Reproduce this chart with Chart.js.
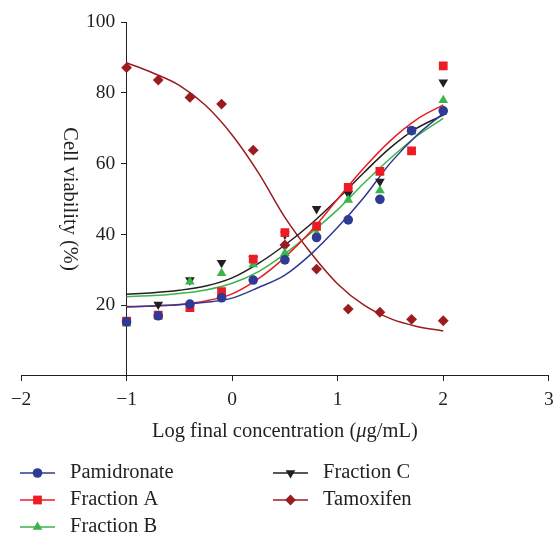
<!DOCTYPE html>
<html>
<head>
<meta charset="utf-8">
<script src="https://cdn.jsdelivr.net/npm/chart.js@4.4.1/dist/chart.umd.min.js"></script>
<style>
  html, body { margin: 0; padding: 0; background: #fff; }
  canvas { display: block; }
</style>
</head>
<body>
<canvas id="chart" width="555" height="536" style="width:555px;height:536px"></canvas>
<script>
// measured points (log concentration vs viability %)
const doses = [-1, -0.7, -0.4, -0.1, 0.2, 0.5, 0.8, 1.1, 1.4, 1.7, 2];
const pamidronate = [15.3, 17.0, 20.3, 22.1, 27.1, 32.8, 39.1, 44.1, 49.9, 69.3, 74.9];
const fractionA = [15.5, 17.2, 19.3, 23.8, 33.0, 40.5, 42.3, 53.3, 57.8, 63.6, 87.6];
const fractionB = [14.8, 17.0, 26.6, 29.0, 31.5, 34.7, 40.3, 49.7, 52.4, 69.0, 77.9];
const fractionC = [15.5, 20.2, 27.1, 32.0, 33.0, 40.0, 47.2, 51.5, 54.9, 69.5, 83.0];
const tamoxifen = [87.1, 83.6, 78.7, 76.8, 63.8, 37.0, 30.2, 18.9, 18.0, 16.0, 15.6];

// fitted curves
const fitDoses = [-1, -0.75, -0.5, -0.25, 0, 0.25, 0.5, 0.75, 1, 1.25, 1.5, 1.75, 2];
const pamidronateFit = [19.5, 19.8, 20.1, 20.8, 22.0, 25.0, 28.5, 34.5, 42.0, 50.5, 60.2, 68.0, 74.2];
const fractionAFit = [19.6, 19.8, 20.2, 21.2, 23.2, 27.5, 33.5, 41.0, 50.0, 58.8, 66.5, 72.5, 76.6];
const fractionBFit = [22.4, 22.7, 23.3, 24.3, 26.2, 29.5, 34.5, 40.5, 47.0, 54.5, 61.5, 67.8, 72.8];
const fractionCFit = [23.1, 23.5, 24.2, 25.4, 27.7, 31.8, 37.0, 43.0, 50.0, 57.5, 64.5, 70.0, 73.7];
const tamoxifenFit = [88.5, 85.6, 82.1, 76.4, 68.1, 57.4, 44.8, 34.6, 26.0, 20.0, 16.2, 14.0, 12.7];

const seriesNames = ["Pamidronate", "Fraction A", "Fraction B", "Fraction C", "Tamoxifen"];
const xTicks = [-2, -1, 0, 1, 2, 3];
const yTicks = [0, 20, 40, 60, 80, 100];

const SERIF = "'Liberation Serif', 'DejaVu Serif', serif";
const INK = "#231F20";

const styles = [
  { color: "#2E3A93", pointStyle: "circle", radius: 4.8, rotation: 0 },
  { color: "#EC1C24", pointStyle: "rect", radius: 6.2, rotation: 0 },
  { color: "#39B54A", pointStyle: "triangle", radius: 5.6, rotation: 0 },
  { color: "#231F20", pointStyle: "triangle", radius: 5.6, rotation: 180 },
  { color: "#9B1C1F", pointStyle: "rectRot", radius: 5.4, rotation: 0 },
];

const pointSets = [pamidronate, fractionA, fractionB, fractionC, tamoxifen];
const fitSets = [pamidronateFit, fractionAFit, fractionBFit, fractionCFit, tamoxifenFit];

const toXY = (xs, ys) => xs.map((x, i) => ({ x: x, y: ys[i] }));

const datasets = [];
pointSets.forEach((vals, i) => {
  const s = styles[i];
  datasets.push({
    label: seriesNames[i],
    data: toXY(doses, vals),
    showLine: false,
    pointStyle: s.pointStyle,
    rotation: s.rotation,
    pointRadius: s.radius,
    pointBorderWidth: 0,
    pointBackgroundColor: s.color,
    borderColor: s.color,
    legendItem: true,
    order: i,
  });
});
fitSets.forEach((vals, i) => {
  const s = styles[i];
  datasets.push({
    label: seriesNames[i] + " fit",
    data: toXY(fitDoses, vals),
    showLine: true,
    pointRadius: 0,
    borderColor: s.color,
    borderWidth: 1.5,
    cubicInterpolationMode: "monotone",
    order: 10 + i,
  });
});

const fmt = (v) => (v < 0 ? "\u2212" + Math.abs(v) : String(v));

// x-axis title with italic mu, plus the two-column legend below
const extras = {
  id: "extras",
  afterDraw(chart) {
    const ctx = chart.ctx;
    const area = chart.chartArea;
    ctx.save();
    ctx.fillStyle = INK;
    ctx.textBaseline = "middle";

    const parts = [
      ["Log final concentration (", "normal"],
      ["\u03BC", "italic"],
      ["g/mL)", "normal"],
    ];
    let total = 0;
    parts.forEach((p) => {
      ctx.font = p[1] + " 20.5px " + SERIF;
      total += ctx.measureText(p[0]).width;
    });
    let x = (area.left + area.right) / 2 - total / 2;
    parts.forEach((p) => {
      ctx.font = p[1] + " 20.5px " + SERIF;
      ctx.textAlign = "left";
      ctx.fillText(p[0], x, 432);
      x += ctx.measureText(p[0]).width;
    });

    const cols = [20, 273];
    const rows = [473, 500, 527];
    chart.data.datasets.filter((d) => d.legendItem).forEach((d, i) => {
      const col = i < 3 ? 0 : 1;
      const row = i < 3 ? i : i - 3;
      const lx = cols[col];
      const ly = rows[row];
      ctx.strokeStyle = d.borderColor;
      ctx.lineWidth = 1.5;
      ctx.beginPath();
      ctx.moveTo(lx, ly);
      ctx.lineTo(lx + 35, ly);
      ctx.stroke();
      ctx.fillStyle = d.pointBackgroundColor;
      Chart.helpers.drawPoint(ctx, {
        pointStyle: d.pointStyle,
        rotation: d.rotation,
        radius: d.pointRadius,
        borderWidth: 0,
      }, lx + 17.5, ly);
      ctx.fillStyle = INK;
      ctx.font = "normal 20.5px " + SERIF;
      ctx.textAlign = "left";
      ctx.fillText(d.label, lx + 50, ly);
    });
    ctx.restore();
  },
};

new Chart(document.getElementById("chart"), {
  type: "line",
  data: { datasets: datasets },
  plugins: [extras],
  options: {
    responsive: false,
    animation: false,
    layout: { padding: { left: 21, right: 3, top: 22, bottom: 117 } },
    plugins: { legend: { display: false }, tooltip: { enabled: false } },
    scales: {
      x: {
        type: "linear",
        position: "bottom",
        min: -2,
        max: 3,
        afterBuildTicks: (s) => { s.ticks = xTicks.map((v) => ({ value: v })); },
        ticks: { color: INK, padding: 0, font: { family: SERIF, size: 19.5, lineHeight: 1.95 }, callback: fmt },
        grid: { drawOnChartArea: false, drawTicks: true, tickLength: 5, color: INK },
        border: { display: true, color: INK, width: 1 },
      },
      // axis line and tick marks, crossing the x axis at -1
      y: {
        type: "linear",
        position: { x: -1 },
        min: 0,
        max: 100,
        afterBuildTicks: (s) => { s.ticks = yTicks.map((v) => ({ value: v })); },
        ticks: { display: false },
        grid: { drawOnChartArea: false, drawTicks: true, tickLength: 5, color: INK },
        border: { display: true, color: INK, width: 1 },
      },
      // tick labels and title, set just left of the axis line
      yLabels: {
        type: "linear",
        position: { x: -1.108 },
        min: 0,
        max: 100,
        afterBuildTicks: (s) => { s.ticks = yTicks.map((v) => ({ value: v })); },
        ticks: { color: INK, padding: 2, font: { family: SERIF, size: 19.5 }, callback: (v) => (v === 0 ? "" : fmt(v)) },
        grid: { display: false, drawTicks: false },
        border: { display: false },
        title: {
          display: true,
          text: "Cell viability (%)",
          color: INK,
          font: { family: SERIF, size: 20.5 },
          padding: { top: 0, bottom: 6 },
        },
      },
    },
  },
});
</script>
</body>
</html>
